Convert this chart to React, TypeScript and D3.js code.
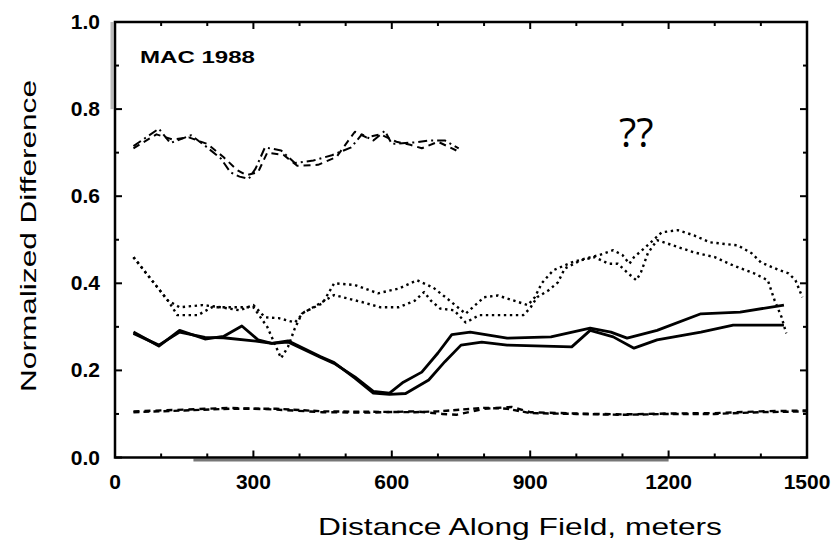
import React, { useEffect, useRef } from "react"
import * as d3 from "d3"

// distances along field (m) and normalized difference values
const topDashDotX = [40, 95, 120, 165, 195, 230, 250, 270, 290, 305, 325, 360, 390, 430, 470, 512, 535, 560, 585, 600, 655, 680, 715, 745]
const topDashDotY = [0.715, 0.755, 0.722, 0.74, 0.716, 0.686, 0.655, 0.645, 0.64, 0.664, 0.712, 0.705, 0.676, 0.682, 0.694, 0.712, 0.742, 0.728, 0.75, 0.72, 0.724, 0.728, 0.728, 0.71]
const topDashedX = [40, 90, 125, 160, 200, 235, 265, 285, 310, 330, 365, 395, 440, 480, 520, 545, 575, 610, 640, 665, 700, 740]
const topDashedY = [0.71, 0.742, 0.73, 0.735, 0.72, 0.69, 0.66, 0.648, 0.655, 0.7, 0.695, 0.67, 0.672, 0.69, 0.748, 0.735, 0.742, 0.725, 0.718, 0.71, 0.725, 0.705]

const dot1X = [40, 115, 140, 190, 230, 270, 300, 325, 355, 390, 410, 450, 475, 520, 570, 615, 655, 690, 720, 760, 800, 830, 865, 895, 910, 925, 950, 990, 1020, 1050, 1080, 1100, 1115, 1125, 1150, 1185, 1220, 1255, 1290, 1350, 1380, 1400, 1440, 1460, 1475, 1490]
const dot1Y = [0.46, 0.36, 0.345, 0.35, 0.345, 0.338, 0.35, 0.322, 0.32, 0.31, 0.334, 0.354, 0.4, 0.396, 0.377, 0.388, 0.407, 0.39, 0.365, 0.33, 0.368, 0.372, 0.36, 0.35, 0.368, 0.4, 0.43, 0.448, 0.457, 0.465, 0.476, 0.465, 0.445, 0.46, 0.483, 0.517, 0.522, 0.51, 0.494, 0.487, 0.469, 0.448, 0.43, 0.423, 0.407, 0.368]
const dot2X = [40, 115, 135, 180, 210, 300, 330, 360, 375, 390, 405, 475, 490, 535, 575, 615, 650, 670, 685, 705, 735, 760, 790, 840, 885, 900, 915, 940, 960, 975, 1010, 1040, 1070, 1090, 1110, 1130, 1140, 1155, 1175, 1210, 1255, 1300, 1340, 1385, 1415, 1430, 1445, 1455]
const dot2Y = [0.46, 0.36, 0.327, 0.327, 0.345, 0.345, 0.3, 0.228, 0.254, 0.297, 0.33, 0.373, 0.369, 0.357, 0.345, 0.345, 0.36, 0.38, 0.36, 0.342, 0.338, 0.31, 0.327, 0.327, 0.327, 0.343, 0.368, 0.384, 0.402, 0.434, 0.453, 0.46, 0.445, 0.445, 0.425, 0.407, 0.425, 0.469, 0.499, 0.487, 0.471, 0.46, 0.441, 0.423, 0.407, 0.36, 0.322, 0.285]

const solid1X = [40, 95, 140, 195, 235, 275, 310, 340, 375, 445, 475, 520, 560, 595, 625, 665, 700, 730, 770, 850, 945, 1030, 1075, 1110, 1175, 1270, 1355, 1450]
const solid1Y = [0.288, 0.256, 0.292, 0.272, 0.278, 0.302, 0.27, 0.262, 0.265, 0.23, 0.216, 0.185, 0.152, 0.148, 0.173, 0.196, 0.24, 0.282, 0.288, 0.274, 0.277, 0.297, 0.288, 0.274, 0.292, 0.33, 0.334, 0.35]
const solid2X = [40, 95, 140, 195, 235, 300, 340, 375, 445, 475, 520, 560, 595, 630, 680, 715, 750, 795, 850, 990, 1030, 1080, 1125, 1175, 1270, 1340, 1450]
const solid2Y = [0.285, 0.258, 0.288, 0.276, 0.275, 0.268, 0.262, 0.268, 0.232, 0.218, 0.182, 0.148, 0.145, 0.147, 0.178, 0.22, 0.258, 0.265, 0.258, 0.254, 0.292, 0.277, 0.251, 0.27, 0.288, 0.304, 0.304]

const dash1X = [40, 150, 250, 350, 450, 550, 650, 700, 750, 800, 850, 900, 1000, 1100, 1200, 1300, 1400, 1500]
const dash1Y = [0.104, 0.108, 0.112, 0.112, 0.106, 0.105, 0.104, 0.106, 0.11, 0.114, 0.112, 0.102, 0.1, 0.098, 0.1, 0.1, 0.104, 0.106]
const dash2X = [40, 150, 250, 350, 450, 550, 650, 710, 740, 800, 860, 900, 1000, 1100, 1200, 1300, 1400, 1500]
const dash2Y = [0.106, 0.11, 0.114, 0.11, 0.104, 0.103, 0.106, 0.1, 0.098, 0.112, 0.116, 0.104, 0.101, 0.099, 0.101, 0.102, 0.106, 0.108]

const xTicks = [0, 300, 600, 900, 1200, 1500]
const yTicks = [0.0, 0.2, 0.4, 0.6, 0.8, 1.0]

const series = [
	{ x: topDashDotX, y: topDashDotY, width: 2, dash: "9,4,2,4" },
	{ x: topDashedX, y: topDashedY, width: 2, dash: "7,5" },
	{ x: dot1X, y: dot1Y, width: 2.4, dash: "2.4,3.6" },
	{ x: dot2X, y: dot2Y, width: 2.4, dash: "2.4,3.6" },
	{ x: solid1X, y: solid1Y, width: 2.8, dash: null },
	{ x: solid2X, y: solid2Y, width: 2.8, dash: null },
	{ x: dash1X, y: dash1Y, width: 2.4, dash: "6,4" },
	{ x: dash2X, y: dash2Y, width: 2.4, dash: "6,5" },
]

const W = 836
const H = 548
const margin = { top: 22, right: 29, bottom: 90, left: 115 }

const App = () => {
	const svgRef = useRef<SVGSVGElement>(null)

	useEffect(() => {
		const svg = d3.select(svgRef.current)
		svg.selectAll("*").remove()

		const x = d3.scaleLinear().domain([0, 1500]).range([margin.left, W - margin.right])
		const y = d3.scaleLinear().domain([0, 1]).range([H - margin.bottom - 0.5, margin.top])
		const font = "'Liberation Sans', Arial, sans-serif"

		const plot = svg.append("g")

		// lines
		const line = d3
			.line<[number, number]>()
			.x((d) => x(d[0]))
			.y((d) => y(d[1]))
		series.forEach((s) => {
			const pts = s.x.map((v, i) => [v, s.y[i]] as [number, number])
			plot.append("path")
				.attr("d", line(pts))
				.attr("fill", "none")
				.attr("stroke", "#000")
				.attr("stroke-width", s.width)
				.attr("stroke-dasharray", s.dash)
				.attr("stroke-linejoin", "round")
		})

		// frame
		const [x0, x1] = x.range()
		const [yb, yt] = y.range()
		// grey scan smudges along the frame
		plot.append("line").attr("x1", x(170)).attr("x2", x(1200)).attr("y1", yb + 2.5).attr("y2", yb + 2.5).attr("stroke", "#777").attr("stroke-width", 3)
		plot.append("line").attr("x1", x0 - 3).attr("x2", x0 - 3).attr("y1", yt).attr("y2", y(0.8)).attr("stroke", "#bbb").attr("stroke-width", 3)
		plot.append("rect")
			.attr("x", x0)
			.attr("y", yt)
			.attr("width", x1 - x0)
			.attr("height", yb - yt)
			.attr("fill", "none")
			.attr("stroke", "#000")
			.attr("stroke-width", 2.5)

		// inward ticks on all four sides
		const xMinor = d3.range(0, 1501, 100)
		const yMinor = d3.range(0, 1.001, 0.1)
		xMinor.forEach((v) => {
			const len = v % 300 === 0 ? 7 : 4
			plot.append("line").attr("x1", x(v)).attr("x2", x(v)).attr("y1", yb).attr("y2", yb - len).attr("stroke", "#000").attr("stroke-width", 2)
			plot.append("line").attr("x1", x(v)).attr("x2", x(v)).attr("y1", yt).attr("y2", yt + len).attr("stroke", "#000").attr("stroke-width", 2)
		})
		yMinor.forEach((v, i) => {
			const len = i % 2 === 0 ? 7 : 4
			plot.append("line").attr("x1", x0).attr("x2", x0 + len).attr("y1", y(v)).attr("y2", y(v)).attr("stroke", "#000").attr("stroke-width", 2)
			plot.append("line").attr("x1", x1).attr("x2", x1 - len).attr("y1", y(v)).attr("y2", y(v)).attr("stroke", "#000").attr("stroke-width", 2)
		})

		// tick labels
		plot.selectAll(".xl")
			.data(xTicks)
			.join("text")
			.attr("x", (d) => x(d))
			.attr("y", 489)
			.attr("text-anchor", "middle")
			.attr("font-family", font)
			.attr("font-weight", "bold")
			.attr("font-size", 21)
			.text((d) => d)
		plot.selectAll(".yl")
			.data(yTicks)
			.join("text")
			.attr("x", 100)
			.attr("y", (d) => y(d) + 7)
			.attr("text-anchor", "end")
			.attr("font-family", font)
			.attr("font-weight", "bold")
			.attr("font-size", 21)
			.text((d) => d.toFixed(1))

		// titles
		svg.append("text")
			.attr("x", 520)
			.attr("y", 535)
			.attr("text-anchor", "middle")
			.attr("font-family", font)
			.attr("font-size", 24)
			.attr("textLength", 404)
			.attr("lengthAdjust", "spacingAndGlyphs")
			.text("Distance Along Field, meters")
		svg.append("text")
			.attr("transform", "translate(36,236) rotate(-90)")
			.attr("text-anchor", "middle")
			.attr("font-family", font)
			.attr("font-size", 22)
			.attr("textLength", 312)
			.attr("lengthAdjust", "spacingAndGlyphs")
			.text("Normalized Difference")
		svg.append("text")
			.attr("x", 140)
			.attr("y", 63)
			.attr("font-family", font)
			.attr("font-weight", "bold")
			.attr("font-size", 17)
			.attr("textLength", 115)
			.attr("lengthAdjust", "spacingAndGlyphs")
			.text("MAC 1988")
		svg.append("text")
			.attr("x", 619)
			.attr("y", 147)
			.attr("font-family", "'Open Sans', 'Noto Sans', sans-serif")
			.attr("font-size", 40)
			.text("??")
	}, [])

	return (
		<svg
			ref={svgRef}
			width={W}
			height={H}
			style={{ position: "absolute", left: 0, top: 0, background: "#fff" }}
		></svg>
	)
}

export default App
